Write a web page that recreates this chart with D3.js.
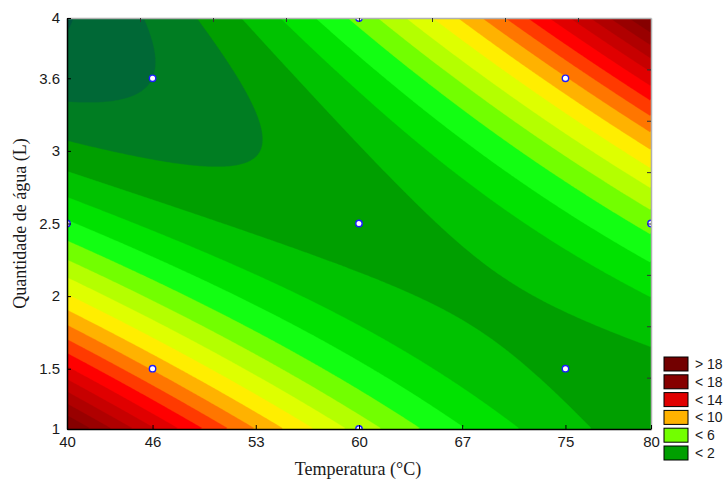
<!DOCTYPE html>
<html>
<head>
<meta charset="utf-8">
<script src="https://cdn.jsdelivr.net/npm/d3@7"></script>
<style>
  html, body { margin: 0; padding: 0; background: #fff; }
  svg { display: block; }
</style>
</head>
<body>
<svg id="chart" width="726" height="479"></svg>
<script>
// Bottom axis: temperature (°C), labelled at the design levels
const tempTickValues = [40, 45.86, 52.93, 60, 67.07, 74.14, 80];
const tempTickLabels = ["40", "46", "53", "60", "67", "75", "80"];
// Left axis: water quantity (L)
const waterTickValues = [1, 1.44, 1.97, 2.5, 3.03, 3.56, 4];
const waterTickLabels = ["1", "1.5", "2", "2.5", "3", "3.6", "4"];
// Minor ticks on the top and right frame
const tempMinorTicks = [45, 50, 55, 60, 65, 70, 75];
const waterMinorTicks = [1.375, 1.75, 2.125, 2.5, 2.875, 3.25, 3.625];

// Experimental design points (central composite design)
const designTemp  = [45.86, 45.86, 74.14, 74.14, 60, 60, 60, 40, 80];
const designWater = [1.44, 3.56, 1.44, 3.56, 2.5, 1, 4, 2.5, 2.5];

// Fitted second-order response surface, coded variables
// terms: 1, T, A, T·A, T², A²
const modelCoef = [1.6, 0.45, -0.45, 4.5, 1.6, 2.2];
const tempCenter = 60, tempStep = 14.142;
const waterCenter = 2.5, waterStep = 1.0607;

// Contour levels and band colours (lowest band first)
const levels = [-1, 0, 1, 2, 3, 4, 5, 6, 7, 8, 9, 10, 11, 12, 13, 14, 15, 16, 17, 18];
const bandColors = [
  "#00573f", "#006836", "#007d22", "#009f00", "#00c200", "#00e200",
  "#12ff12", "#72ff00", "#b4ff00", "#deff00", "#ffee00", "#ffb200",
  "#ff7600", "#ff3a00", "#ff0000", "#e00000", "#c70000", "#b00000",
  "#990000", "#860000", "#720000"
];

// Legend entries
const legendLabels = ["> 18", "< 18", "< 14", "< 10", "< 6", "< 2"];
const legendBands  = [20, 19, 15, 11, 7, 3];

const svg = d3.select("#chart");
const pL = 67, pR = 651, pT = 18, pB = 429;
const x = d3.scaleLinear().domain([40, 80]).range([pL, pR]);
const y = d3.scaleLinear().domain([1, 4]).range([pB, pT]);

function response(T, A) {
  const u = (T - tempCenter) / tempStep;
  const v = (A - waterCenter) / waterStep;
  const c = modelCoef;
  return c[0] + c[1] * u + c[2] * v + c[3] * u * v + c[4] * u * u + c[5] * v * v;
}

// Sample the surface on a pixel grid
const nx = 292, ny = 206;
const sx = (pR - pL) / nx, sy = (pB - pT) / ny;
const grid = new Array(nx * ny);
for (let j = 0; j < ny; j++) {
  const A = y.invert(pT + (j + 0.5) * sy);
  for (let i = 0; i < nx; i++) {
    const T = x.invert(pL + (i + 0.5) * sx);
    grid[i + j * nx] = response(T, A);
  }
}
const contours = d3.contours().size([nx, ny]).thresholds(levels)(grid);
const toPlot = d3.geoTransform({
  point(px, py) { this.stream.point(pL + px * sx, pT + py * sy); }
});
const path = d3.geoPath(toPlot);

svg.append("clipPath").attr("id", "plotClip")
  .append("rect").attr("x", pL).attr("y", pT)
  .attr("width", pR - pL).attr("height", pB - pT);

const plot = svg.append("g").attr("clip-path", "url(#plotClip)");
plot.append("rect").attr("x", pL).attr("y", pT)
  .attr("width", pR - pL).attr("height", pB - pT)
  .attr("fill", bandColors[0]);
plot.selectAll("path.band").data(contours).join("path")
  .attr("class", "band")
  .attr("d", path)
  .attr("fill", (d, i) => bandColors[i + 1])
  .attr("stroke", (d, i) => bandColors[i + 1])
  .attr("stroke-width", 0.3);

// Design points
plot.selectAll("circle.pt").data(designTemp).join("circle")
  .attr("class", "pt")
  .attr("cx", d => x(d))
  .attr("cy", (d, i) => y(designWater[i]))
  .attr("r", 3.2)
  .attr("fill", "#ffffff")
  .attr("stroke", "#1c1cff")
  .attr("stroke-width", 1.4);

// Frame: top and right in grey with minor ticks
const frameTop = svg.append("g").attr("transform", `translate(0,${pT})`)
  .call(d3.axisTop(x).tickValues(tempMinorTicks).tickFormat("").tickSizeInner(-4).tickSizeOuter(0));
frameTop.select(".domain").attr("stroke", "#b0b0b0").attr("stroke-width", 1.5);
frameTop.selectAll(".tick line").attr("stroke", "#333");

const frameRight = svg.append("g").attr("transform", `translate(${pR},0)`)
  .call(d3.axisRight(y).tickValues(waterMinorTicks).tickFormat("").tickSizeInner(-4).tickSizeOuter(0));
frameRight.select(".domain").attr("stroke", "#b0b0b0").attr("stroke-width", 1.5);
frameRight.selectAll(".tick line").attr("stroke", "#333");

// Bottom axis
const xAxis = svg.append("g").attr("transform", `translate(0,${pB})`)
  .call(d3.axisBottom(x).tickValues(tempTickValues)
    .tickFormat((d, i) => tempTickLabels[i]).tickSizeInner(-4).tickSizeOuter(0).tickPadding(7));
xAxis.select(".domain").attr("stroke", "#000").attr("stroke-width", 1.5);
xAxis.selectAll(".tick line").attr("stroke", "#000");
xAxis.selectAll(".tick text")
  .attr("font-family", "'Liberation Sans', Arial, sans-serif")
  .attr("font-size", 15).attr("fill", "#1a1a1a");

// Left axis
const yAxis = svg.append("g").attr("transform", `translate(${pL},0)`)
  .call(d3.axisLeft(y).tickValues(waterTickValues)
    .tickFormat((d, i) => waterTickLabels[i]).tickSizeInner(-4).tickSizeOuter(0).tickPadding(7));
yAxis.select(".domain").attr("stroke", "#000").attr("stroke-width", 1.5);
yAxis.selectAll(".tick line").attr("stroke", "#000");
yAxis.selectAll(".tick text")
  .attr("font-family", "'Liberation Sans', Arial, sans-serif")
  .attr("font-size", 15).attr("fill", "#1a1a1a");

// Axis titles
svg.append("text")
  .attr("x", 358).attr("y", 475)
  .attr("text-anchor", "middle")
  .attr("font-family", "'Liberation Serif', 'Times New Roman', serif")
  .attr("font-size", 18).attr("fill", "#1a1a1a")
  .text("Temperatura (°C)");
svg.append("text")
  .attr("transform", `translate(26,${(pT + pB) / 2}) rotate(-90)`)
  .attr("text-anchor", "middle")
  .attr("font-family", "'Liberation Serif', 'Times New Roman', serif")
  .attr("font-size", 18).attr("fill", "#1a1a1a")
  .text("Quantidade de água (L)");

// Legend
const legend = svg.append("g").attr("transform", "translate(664,357)");
const rows = legend.selectAll("g").data(legendLabels).join("g")
  .attr("transform", (d, i) => `translate(0,${i * 17.8})`);
rows.append("rect")
  .attr("width", 24).attr("height", 14)
  .attr("fill", (d, i) => bandColors[legendBands[i]])
  .attr("stroke", "#000").attr("stroke-width", 1);
rows.append("text")
  .attr("x", 31).attr("y", 12)
  .attr("font-family", "'Liberation Sans', Arial, sans-serif")
  .attr("font-size", 14).attr("fill", "#1a1a1a")
  .text(d => d);
</script>
</body>
</html>
